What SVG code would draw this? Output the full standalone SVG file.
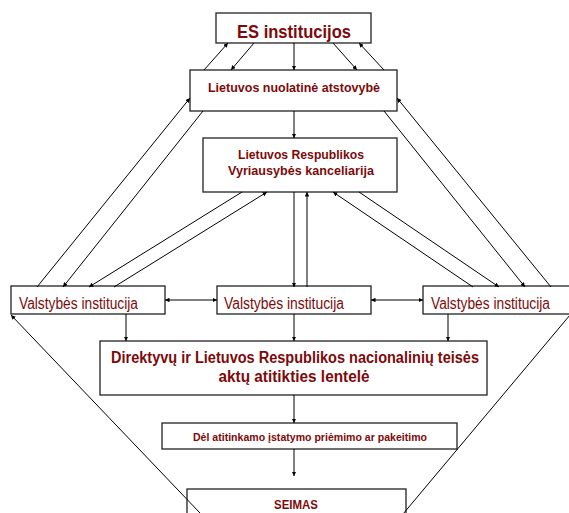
<svg xmlns="http://www.w3.org/2000/svg" width="569" height="513" viewBox="0 0 569 513">
<style>
.box{fill:#fff;stroke:#222;stroke-width:1.3}
.t{fill:#7d0a0a;font-family:"Liberation Sans",Arial,sans-serif;font-weight:bold;text-anchor:middle}
.r{fill:#7d0a0a;font-family:"Liberation Sans",Arial,sans-serif;font-weight:normal}
.c{stroke:#000;stroke-width:1;fill:none;marker-end:url(#a)}
.d{stroke:#000;stroke-width:1;fill:none}
</style>
<defs>
<marker id="a" viewBox="0 0 6 6" refX="6" refY="3" markerWidth="4.5" markerHeight="4.5" markerUnits="userSpaceOnUse" orient="auto-start-reverse">
<path d="M0,0 L6,3 L0,6 z" fill="#000"/>
</marker>
</defs>
<g id="es">
<rect class="box" x="216" y="13" width="155" height="30"/>
<text class="t" x="294" y="38" font-size="19" textLength="114" lengthAdjust="spacingAndGlyphs">ES institucijos</text>
</g>
<g id="atstovybe">
<rect class="box" x="190" y="70" width="207" height="41"/>
<text class="t" x="294" y="92" font-size="13.5" textLength="172" lengthAdjust="spacingAndGlyphs">Lietuvos nuolatinė atstovybė</text>
</g>
<g id="kanceliarija">
<rect class="box" x="203" y="138" width="194" height="54"/>
<text class="t" x="301" y="159" font-size="13.5" textLength="126" lengthAdjust="spacingAndGlyphs">Lietuvos Respublikos</text>
<text class="t" x="301" y="175" font-size="13.5" textLength="146" lengthAdjust="spacingAndGlyphs">Vyriausybės kanceliarija</text>
</g>
<g id="valst1">
<rect class="box" x="11" y="286" width="154" height="28"/>
<text class="r" x="19" y="309" font-size="16" textLength="119" lengthAdjust="spacingAndGlyphs">Valstybės institucija</text>
</g>
<g id="valst2">
<rect class="box" x="217" y="286" width="154" height="28"/>
<text class="r" x="224" y="309" font-size="16" textLength="120" lengthAdjust="spacingAndGlyphs">Valstybės institucija</text>
</g>
<g id="valst3">
<rect class="box" x="423" y="286" width="160" height="28"/>
<text class="r" x="431" y="309" font-size="16" textLength="119" lengthAdjust="spacingAndGlyphs">Valstybės institucija</text>
</g>
<g id="lentele">
<rect class="box" x="100" y="341" width="387" height="54"/>
<text class="t" x="295" y="363" font-size="16" textLength="368" lengthAdjust="spacingAndGlyphs">Direktyvų ir Lietuvos Respublikos nacionalinių teisės</text>
<text class="t" x="294" y="382" font-size="16" textLength="151" lengthAdjust="spacingAndGlyphs">aktų atitikties lentelė</text>
</g>
<g id="del">
<rect class="box" x="162" y="423" width="295" height="26"/>
<text class="t" x="310" y="441" font-size="11" textLength="234" lengthAdjust="spacingAndGlyphs">Dėl atitinkamo įstatymo priėmimo ar pakeitimo</text>
</g>
<g id="seimas">
<rect class="box" x="187" y="489" width="219" height="40"/>
<text class="t" x="296" y="509" font-size="13" textLength="44" lengthAdjust="spacingAndGlyphs">SEIMAS</text>
</g>
<g id="connectors">
<line class="c" x1="204" y1="70" x2="228" y2="43"/>
<line class="c" x1="254" y1="43" x2="231" y2="70"/>
<line class="c" x1="294" y1="43" x2="294" y2="70"/>
<line class="c" x1="333" y1="43" x2="357" y2="70"/>
<line class="c" x1="384" y1="70" x2="359" y2="43"/>
<line class="c" x1="294" y1="111" x2="294" y2="138"/>
<line class="c" x1="37" y1="287" x2="190" y2="98"/>
<line class="c" x1="203" y1="111" x2="63" y2="287"/>
<line class="c" x1="242" y1="192" x2="89" y2="287"/>
<line class="c" x1="114" y1="287" x2="267" y2="192"/>
<line class="c" x1="551" y1="287" x2="397" y2="98"/>
<line class="c" x1="384" y1="111" x2="525" y2="287"/>
<line class="c" x1="359" y1="192" x2="499" y2="287"/>
<line class="c" x1="473" y1="287" x2="333" y2="192"/>
<line class="c" x1="294" y1="192" x2="294" y2="287"/>
<line class="c" x1="307" y1="287" x2="307" y2="192"/>
<line class="c" x1="165" y1="300" x2="217" y2="300" style="marker-start:url(#a)"/>
<line class="c" x1="371" y1="300" x2="423" y2="300" style="marker-start:url(#a)"/>
<line class="c" x1="126" y1="314" x2="126" y2="341"/>
<line class="c" x1="294" y1="314" x2="294" y2="341"/>
<line class="c" x1="448" y1="314" x2="448" y2="341"/>
<line class="c" x1="294" y1="395" x2="294" y2="423"/>
<line class="c" x1="294" y1="449" x2="294" y2="476"/>
<line class="c" x1="200" y1="513" x2="11" y2="315"/>
<line class="d" x1="570" y1="315" x2="403" y2="514"/>
</g>
</svg>
